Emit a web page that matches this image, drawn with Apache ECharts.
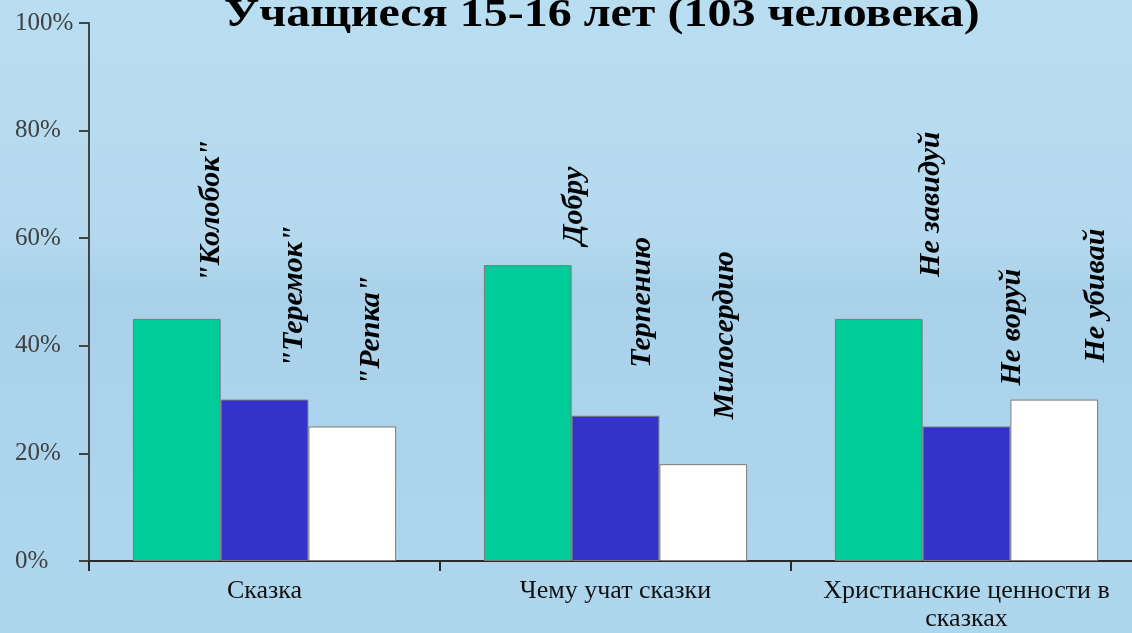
<!DOCTYPE html>
<html><head><meta charset="utf-8">
<script src="https://cdn.jsdelivr.net/npm/echarts@6/dist/echarts.min.js"></script>
<style>
html,body{margin:0;padding:0;overflow:hidden;width:1132px;height:633px;background:#aed6ed;}
#c{width:1142px;height:633px;background:linear-gradient(180deg,#b9ddf1 0%,#b4d9ee 38%,#a9d2ea 45%,#acd4ec 70%,#aed6ed 100%);}
</style>
</head><body><div id="c"></div>
<script>
const titleText = 'Учащиеся 15-16 лет (103 человека)';
const categories = ['Сказка', 'Чему учат сказки', 'Христианские ценности в\nсказках'];
const seriesNames = ['1', '2', '3'];
const values1 = [45, 55, 45];
const values2 = [30, 27, 25];
const values3 = [25, 18, 30];
const labels1 = ['"Колобок"', 'Добру', 'Не завидуй'];
const labels2 = ['"Теремок"', 'Терпению', 'Не воруй'];
const labels3 = ['"Репка"', 'Милосердию', 'Не убивай'];
const yMin = 0, yMax = 100, yStep = 20;

// label placement (style only): [gap above bar, horizontal shift from bar centre]
const labelOffsets = [
  [[37, 34], [20, 46], [42, 52]],
  [[32, 30], [48, 27], [41, 46]],
  [[41, 19], [45, 22], [37, 42]]
];
const colors = ['#00CC99', '#3333CC', '#FFFFFF'];

const chart = echarts.init(document.getElementById('c'), null, {renderer: 'canvas'});
const valueSets = [values1, values2, values3];
const labelSets = [labels1, labels2, labels3];

const series = valueSets.map((vals, s) => ({
  name: seriesNames[s],
  type: 'bar',
  barGap: '0%',
  barCategoryGap: '25%',
  itemStyle: {color: colors[s], borderColor: '#7a7a7a', borderWidth: 1},
  label: {
    show: true,
    position: 'top',
    distance: 0,
    rotate: 90,
    align: 'left',
    verticalAlign: 'middle',
    fontFamily: 'Liberation Serif',
    fontStyle: 'italic',
    fontWeight: 'bold',
    fontSize: 30,
    color: '#000',
    formatter: p => labelSets[s][p.dataIndex]
  },
  data: vals.map((v, i) => ({value: v, label: {offset: labelOffsets[s][i]}}))
}));

chart.setOption({
  animation: false,
  graphic: [{
    type: 'text',
    x: 224, y: 16,
    scaleX: 1.2,
    style: {
      text: titleText,
      x: 0, y: 0,
      verticalAlign: 'middle',
      align: 'left',
      font: 'bold 40px "Liberation Serif"',
      fill: '#000'
    }
  }],
  grid: {left: 89, top: 23, right: 0, bottom: 71, containLabel: false},
  xAxis: {
    type: 'category',
    data: categories,
    axisLine: {lineStyle: {color: '#2a2a2a', width: 2}},
    axisTick: {show: true, length: 10, lineStyle: {color: '#2a2a2a', width: 2}},
    axisLabel: {
      interval: 0,
      margin: 16, color: '#111', fontFamily: 'Liberation Serif', fontSize: 26, lineHeight: 28
    }
  },
  yAxis: {
    type: 'value',
    min: yMin, max: yMax, interval: yStep,
    splitLine: {show: false},
    axisLine: {show: true, lineStyle: {color: '#444', width: 2}},
    axisTick: {show: true, length: 10, lineStyle: {color: '#444', width: 2}},
    axisLabel: {
      formatter: '{value}%', align: 'left', margin: 74,
      color: '#404040', fontFamily: 'Liberation Serif', fontSize: 25
    }
  },
  series: series
});
</script>
</body></html>
